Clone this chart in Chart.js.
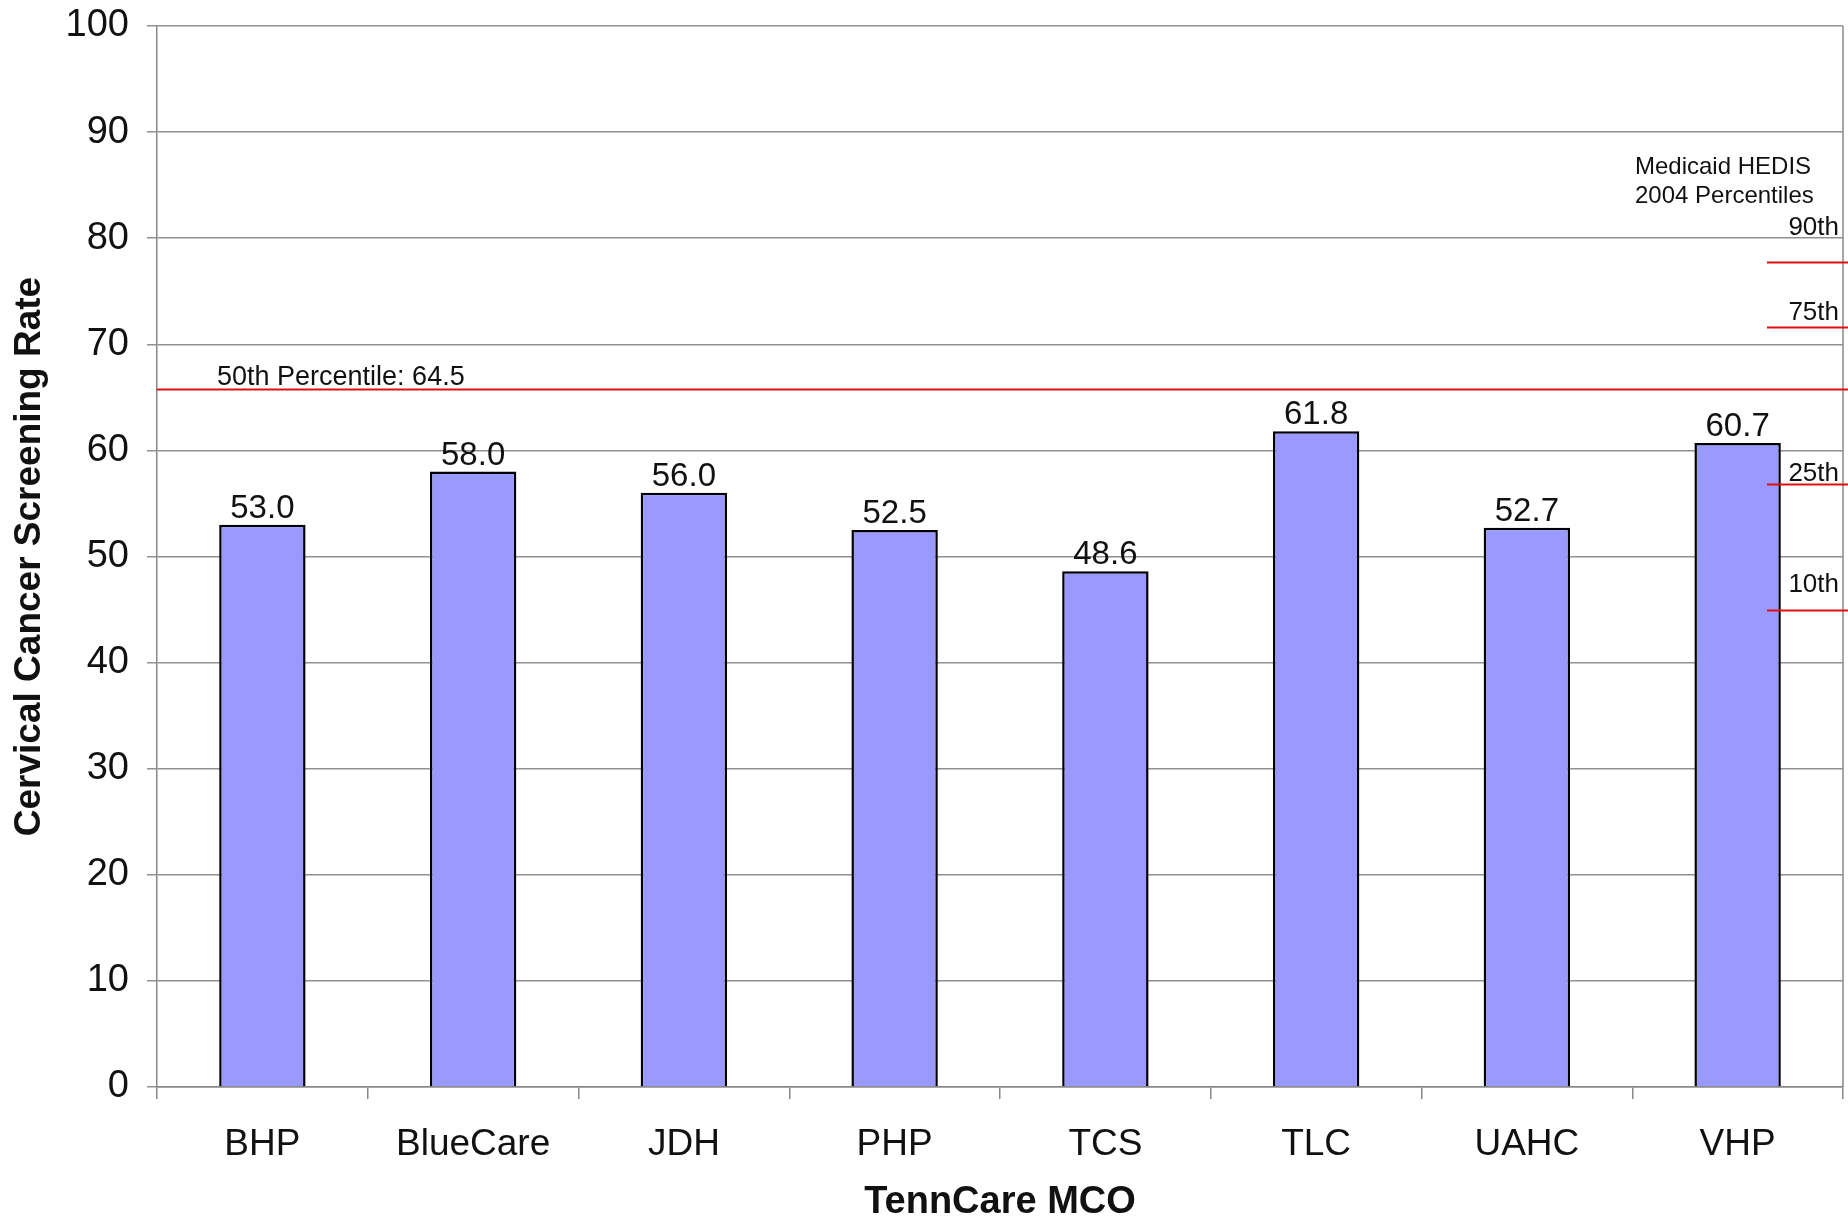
<!DOCTYPE html>
<html>
<head>
<meta charset="utf-8">
<script src="https://cdn.jsdelivr.net/npm/chart.js@4.4.0/dist/chart.umd.min.js"></script>
<style>
  body { margin: 0; background: #fff; }
  #wrap { width: 1848px; height: 1222px; }
</style>
</head>
<body>
<div id="wrap"><canvas id="grafico" width="1848" height="1222"></canvas></div>
<script>
// dados
const categorias = ['BHP', 'BlueCare', 'JDH', 'PHP', 'TCS', 'TLC', 'UAHC', 'VHP'];
const taxas = [53.0, 58.0, 56.0, 52.5, 48.6, 61.8, 52.7, 60.7];
const yTicks = [0, 10, 20, 30, 40, 50, 60, 70, 80, 90, 100];

// linha dos 50% (como aparece na figura)
const mediana = 65.8;
const medianaTexto = '50th Percentile: 64.5';

// percentis HEDIS 2004 (marcas curtas na direita)
const percentisNomes = ['90th', '75th', '25th', '10th'];
const percentisValores = [77.8, 71.6, 56.8, 45.0];
const percentisRotulo = [81.0, 73.0, 57.8, 47.3];

const FONTE = '"Liberation Sans", Arial, sans-serif';
const VERMELHO = '#e01010';

const extras = {
    id: 'extras',
    afterDatasetsDraw: function(chart) {
        const ctx = chart.ctx;
        const area = chart.chartArea;
        const y = chart.scales.y;

        ctx.save();

        // borda direita
        ctx.strokeStyle = '#888';
        ctx.lineWidth = 1.5;
        ctx.beginPath();
        ctx.moveTo(area.right, area.top);
        ctx.lineTo(area.right, area.bottom);
        ctx.stroke();

        // rotulos das barras
        ctx.fillStyle = '#111';
        ctx.font = '33px ' + FONTE;
        ctx.textAlign = 'center';
        ctx.textBaseline = 'middle';
        const meta = chart.getDatasetMeta(0);
        meta.data.forEach(function(bar, i) {
            ctx.fillText(taxas[i].toFixed(1), bar.x, bar.y - 16);
        });

        // linha 50th
        ctx.strokeStyle = VERMELHO;
        ctx.lineWidth = 2;
        const ym = Math.round(y.getPixelForValue(mediana)) + 0.5;
        ctx.beginPath();
        ctx.moveTo(area.left, ym);
        ctx.lineTo(chart.width, ym);
        ctx.stroke();
        ctx.font = '27px ' + FONTE;
        ctx.textAlign = 'left';
        ctx.textBaseline = 'alphabetic';
        ctx.fillText(medianaTexto, area.left + 60, ym - 5);

        // percentis
        const x0 = area.right - 76;
        percentisValores.forEach(function(v) {
            const yp = Math.round(y.getPixelForValue(v)) + 0.5;
            ctx.beginPath();
            ctx.moveTo(x0, yp);
            ctx.lineTo(chart.width, yp);
            ctx.stroke();
        });
        ctx.font = '26px ' + FONTE;
        ctx.textAlign = 'right';
        ctx.textBaseline = 'middle';
        percentisNomes.forEach(function(nome, i) {
            ctx.fillText(nome, area.right - 4, y.getPixelForValue(percentisRotulo[i]));
        });
        ctx.font = '24px ' + FONTE;
        ctx.textAlign = 'left';
        const y90 = y.getPixelForValue(percentisRotulo[0]);
        ctx.fillText('Medicaid HEDIS', area.right - 208, y90 - 60);
        ctx.fillText('2004 Percentiles', area.right - 208, y90 - 31);

        ctx.restore();
    }
};

const ctx = document.getElementById('grafico').getContext('2d');
new Chart(ctx, {
    type: 'bar',
    data: {
        labels: categorias,
        datasets: [{
            data: taxas,
            backgroundColor: '#9999ff',
            borderColor: '#000',
            borderWidth: 2.5,
            borderSkipped: 'bottom',
            barPercentage: 0.82,
            categoryPercentage: 0.5
        }]
    },
    options: {
        responsive: false,
        animation: false,
        layout: { padding: { top: 26, right: 5, left: 0, bottom: 0 } },
        plugins: {
            legend: { display: false },
            tooltip: { enabled: false }
        },
        scales: {
            x: {
                grid: { drawOnChartArea: false, offset: true, tickLength: 12, color: '#888', lineWidth: 1.5 },
                border: { color: '#888', width: 1.5 },
                ticks: { color: '#111', font: { family: FONTE, size: 37 }, padding: 24 },
                title: {
                    display: true,
                    text: 'TennCare MCO',
                    color: '#111',
                    font: { family: FONTE, size: 38, weight: 'bold', lineHeight: 1 },
                    padding: 0
                },
                afterFit: function(s) { s.height = 135; s.paddingLeft = 0; s.paddingRight = 0; }
            },
            y: {
                min: 0,
                max: 100,
                afterBuildTicks: function(s) { s.ticks = yTicks.map(v => ({ value: v })); },
                grid: { color: '#909090', lineWidth: 1.5, tickLength: 10 },
                border: { color: '#888', width: 1.5 },
                ticks: { color: '#111', font: { family: FONTE, size: 38 }, padding: 18 },
                title: {
                    display: true,
                    text: 'Cervical Cancer Screening Rate',
                    color: '#111',
                    font: { family: FONTE, size: 37, weight: 'bold' },
                    padding: { top: 8, bottom: 0 }
                },
                afterFit: function(s) { s.width = 157; s.paddingTop = 0; s.paddingBottom = 0; }
            }
        }
    },
    plugins: [extras]
});
</script>
</body>
</html>
